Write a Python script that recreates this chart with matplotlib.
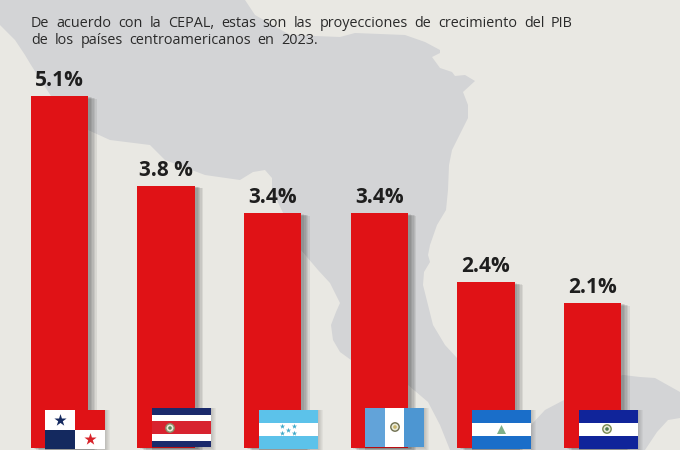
import matplotlib
matplotlib.use("Agg")
import matplotlib.pyplot as plt
import matplotlib.patheffects as pe
from matplotlib.patches import Polygon, Rectangle, Circle

W, H = 680, 450

# chart values
countries = ["Panamá", "Costa Rica", "Honduras", "Guatemala", "Nicaragua", "El Salvador"]
growth = [5.1, 3.8, 3.4, 3.4, 2.4, 2.1]
labels = ["5.1%", "3.8 %", "3.4%", "3.4%", "2.4%", "2.1%"]
intro_lines = [
    "De acuerdo con la CEPAL, estas son las proyecciones de crecimiento del PIB",
    "de los países centroamericanos en 2023.",
]

# background map outlines, in image pixels
north_land = [
    (0, 0), (245, 0), (255, 15), (290, 35), (340, 37), (355, 33), (405, 35), (425, 42), (440, 50),
    (440, 53), (432, 57), (440, 68), (452, 72), (455, 76), (465, 75), (475, 81), (463, 92),
    (468, 105), (468, 118), (452, 150), (449, 165), (448, 190), (446, 210), (437, 225),
    (430, 245), (428, 255), (430, 262), (424, 272), (423, 285), (428, 305), (433, 325),
    (445, 345), (457, 358), (500, 395), (515, 412), (520, 450), (450, 450), (440, 425),
    (428, 402), (408, 385), (351, 360), (340, 352), (333, 340), (331, 325), (336, 312),
    (340, 303), (330, 283), (318, 270), (301, 250), (272, 190), (272, 178), (265, 170),
    (253, 172), (240, 180), (205, 175), (165, 160), (150, 145), (110, 140), (88, 130),
    (60, 110), (31, 65), (25, 55), (15, 40), (0, 25),
]
south_land = [
    (531, 450), (531, 425), (545, 410), (564, 400), (600, 382), (623, 375), (640, 377),
    (655, 378), (680, 392), (680, 418), (668, 420), (657, 432), (645, 450),
]


def px_axes(zorder):
    a = fig.add_axes([0, 0, 1, 1], zorder=zorder)
    a.set_xlim(0, W)
    a.set_ylim(H, 0)
    a.axis("off")
    a.patch.set_alpha(0)
    return a


def justified(a, words, x0, x1, y, **kw):
    # the intro text is justified, so place it word by word
    rend = fig.canvas.get_renderer()
    items = [a.text(x0, y, w, va="baseline", ha="left", **kw) for w in words]
    widths = [t.get_window_extent(rend).width for t in items]
    gap = (x1 - x0 - sum(widths)) / (len(words) - 1)
    x = x0
    for t, w in zip(items, widths):
        t.set_x(x)
        x += w + gap


def flag_shadow(a, x, y, w, h):
    for i in range(1, 6):
        a.add_patch(Rectangle((x, y), w + i, h + i, fc="black", alpha=0.035, lw=0))


def flag_stripes(a, x, y, w, h, colors, weights):
    flag_shadow(a, x, y, w, h)
    total = sum(weights)
    cur = y
    for c, wt in zip(colors, weights):
        a.add_patch(Rectangle((x, cur), w, h * wt / total, fc=c, lw=0))
        cur += h * wt / total


def emblem(a, x, y, color, ring="#8a8f6a"):
    a.add_patch(Circle((x, y), 4.2, fc="#e9ead8", ec=ring, lw=1.0))
    a.add_patch(Circle((x, y), 1.8, fc=color, lw=0))


fig = plt.figure(figsize=(W / 100, H / 100), dpi=100, facecolor="#e9e8e3")

# map behind everything
bg = px_axes(0)
for outline in (north_land, south_land):
    bg.add_patch(Polygon(outline, closed=True, fc="#d3d4d6", ec="none"))
justified(bg, intro_lines[0].split(), 31, 573, 27, fontsize=10.4, family="Open Sans", color="#2a2a2a")
justified(bg, intro_lines[1].split(), 31, 318, 44, fontsize=10.4, family="Open Sans", color="#2a2a2a")

# bars: 69 px per point of growth, baseline at y=448
ax = fig.add_axes([0, 0, 1, 1], zorder=1)
ax.set_xlim(-59.5 / 106.6, (W - 59.5) / 106.6)
ax.set_ylim(-2 / 69, 448 / 69)
ax.axis("off")
ax.patch.set_alpha(0)
shadow = [pe.SimplePatchShadow(offset=(o, -o * 0.3), shadow_rgbFace="black", alpha=0.07) for o in (6, 5, 4, 3, 2)]
bars = ax.bar(range(len(growth)), growth, width=57.5 / 106.6, color="#e01216", linewidth=0)
for b in bars:
    b.set_path_effects(shadow + [pe.Normal()])
for i, (v, lab) in enumerate(zip(growth, labels)):
    ax.text(i, v + 10 / 69, lab, ha="center", va="baseline", fontsize=15, fontweight="bold",
            family="Open Sans", color="#1e1e1e")

# flags on top of the bars
fl = px_axes(2)

# Panama
x, y, w, h = 45, 410, 60, 39
flag_shadow(fl, x, y, w, h)
fl.add_patch(Rectangle((x, y), w / 2, h / 2, fc="#ffffff", lw=0))
fl.add_patch(Rectangle((x + w / 2, y), w / 2, h / 2, fc="#e01216", lw=0))
fl.add_patch(Rectangle((x, y + h / 2), w / 2, h / 2, fc="#14295f", lw=0))
fl.add_patch(Rectangle((x + w / 2, y + h / 2), w / 2, h / 2, fc="#ffffff", lw=0))
fl.scatter([x + w / 4], [y + h / 4 + 0.5], marker="*", s=85, color="#14295f", lw=0)
fl.scatter([x + 3 * w / 4], [y + 3 * h / 4], marker="*", s=85, color="#d8232a", lw=0)

# Costa Rica
flag_stripes(fl, 152, 408, 59, 39, ["#1b2a6b", "#ffffff", "#d8232f", "#ffffff", "#1b2a6b"], [1, 1, 2, 1, 1])
emblem(fl, 170, 428, "#5a8a5a")

# Honduras
flag_stripes(fl, 259, 410, 59, 39, ["#5cc2ea", "#ffffff", "#5cc2ea"], [1, 1, 1])
fl.scatter([282, 294, 288, 282, 294], [426, 426, 430, 433, 433], marker="*", s=16, color="#3fa9c9", lw=0)

# Guatemala
x, y, w, h = 365, 408, 59, 39
flag_shadow(fl, x, y, w, h)
fl.add_patch(Rectangle((x, y), w, h, fc="#ffffff", lw=0))
fl.add_patch(Rectangle((x, y), 20, h, fc="#62a3d9", lw=0))
fl.add_patch(Rectangle((x + 39, y), 20, h, fc="#4d96d2", lw=0))
emblem(fl, 395, 427, "#c9b56a", ring="#6f7050")

# Nicaragua
flag_stripes(fl, 472, 410, 59, 39, ["#1a6ec9", "#ffffff", "#1a6ec9"], [1, 1, 1])
fl.scatter([501], [429], marker="^", s=42, color="#7fb08a", lw=0)

# El Salvador
flag_stripes(fl, 579, 410, 59, 39, ["#10249a", "#ffffff", "#10249a"], [1, 1, 1])
emblem(fl, 607, 429, "#4e7a4e", ring="#7a8a50")

fig.savefig("out.png", dpi=100, facecolor=fig.get_facecolor())
